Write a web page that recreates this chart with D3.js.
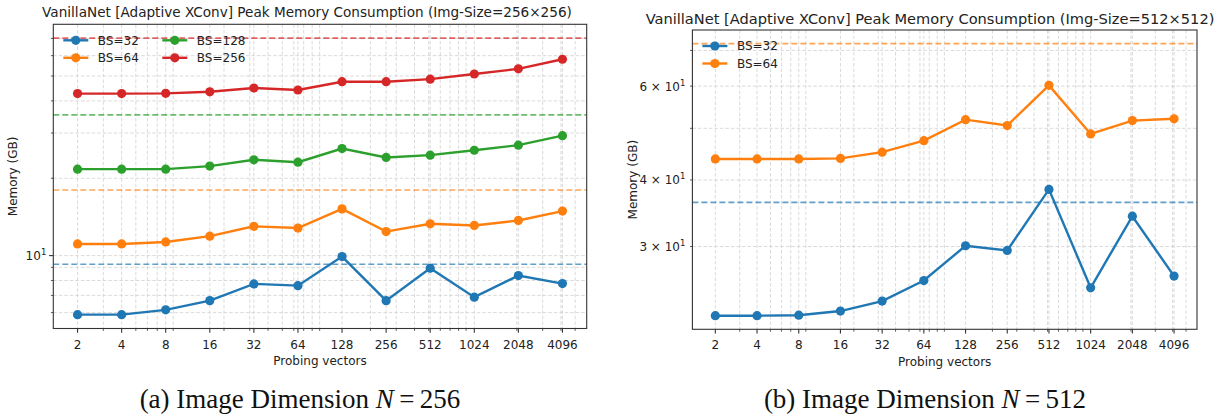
<!DOCTYPE html>
<html lang="en">
<head>
    <meta charset="UTF-8" />
    <title>VanillaNet peak memory</title>
    <script src="https://d3js.org/d3.v7.js"></script>
    <style>
        body { margin: 0; background: #fff; }
        text { font-family: "DejaVu Sans", sans-serif; fill: #222; }
        .caption { font-family: "Liberation Serif", "DejaVu Serif", serif; fill: #111; }
    </style>
</head>
<body>
    <script>
        var w = 1225;
        var h = 417;

        // probing vectors (x axis)
        var probes = [2, 4, 8, 16, 32, 64, 128, 256, 512, 1024, 2048, 4096];

        // Img-Size 256x256, memory in GB
        var mem256_bs32 = [5.89, 5.89, 6.15, 6.68, 7.76, 7.64, 9.91, 6.68, 8.93, 6.89, 8.36, 7.78];
        var mem256_bs64 = [11.1, 11.1, 11.3, 11.9, 13.0, 12.8, 15.2, 12.4, 13.3, 13.1, 13.7, 14.9];
        var mem256_bs128 = [21.7, 21.7, 21.7, 22.3, 23.6, 23.1, 26.1, 24.1, 24.6, 25.7, 26.9, 29.3];
        var mem256_bs256 = [42.7, 42.7, 42.8, 43.4, 44.9, 44.1, 47.5, 47.5, 48.6, 50.9, 53.3, 58.1];
        // dashed reference levels, one per batch size
        var ref256 = [9.26, 18.0, 35.3, 70.2];

        // Img-Size 512x512
        var mem512_bs32 = [22.25, 22.25, 22.3, 22.7, 23.7, 25.9, 30.1, 29.5, 38.4, 25.1, 34.2, 26.4];
        var mem512_bs64 = [43.8, 43.8, 43.8, 43.9, 45.1, 47.4, 51.9, 50.6, 60.2, 48.8, 51.7, 52.1];
        var ref512 = [36.3, 72.1];

        var labels256 = ["BS=32", "BS=64", "BS=128", "BS=256"];
        var labels512 = ["BS=32", "BS=64"];
        var colors = ["#1f77b4", "#ff7f0e", "#2ca02c", "#d62728"];

        // y tick labels that matplotlib printed
        var yLabeled256 = [10];
        var yLabeled512 = [30, 40, 60];

        var svg = d3.select("body")
            .append("svg")
            .attr("width", w)
            .attr("height", h);

        // log domain with 5% margin like matplotlib autoscale
        function logDomain(vals) {
            var lo = Math.log10(d3.min(vals)), hi = Math.log10(d3.max(vals));
            var m = (hi - lo) * 0.05;
            return [Math.pow(10, lo - m), Math.pow(10, hi + m)];
        }

        function isPow10(v) {
            var l = Math.log10(v);
            return Math.abs(l - Math.round(l)) < 1e-9;
        }

        function sup(sel, v) {
            // matplotlib style 10^k / m x 10^k
            var k = Math.floor(Math.log10(v) + 1e-9);
            var m = Math.round(v / Math.pow(10, k));
            if (m !== 1) sel.append("tspan").text(m + " \u00d7 10");
            else sel.append("tspan").text("10");
            sel.append("tspan").attr("dy", -5).attr("font-size", 8.5).text(k);
        }

        function panel(cfg) {
            var g = svg.append("g");
            var x = d3.scaleLog()
                .domain(logDomain(probes))
                .range([cfg.left, cfg.right]);
            var allY = d3.merge(cfg.series.concat([cfg.refs]));
            var y = d3.scaleLog()
                .domain(logDomain(allY))
                .range([cfg.bottom, cfg.top]);

            var xMinor = x.ticks().filter(function (d) { return !isPow10(d) && probes.indexOf(d) < 0; });
            var yTicks = y.ticks();
            var yMajor = yTicks.filter(isPow10);
            var yMinor = yTicks.filter(function (d) { return !isPow10(d); });

            // grid, both major and minor
            var grid = g.append("g")
                .attr("stroke", "#d0d0d0")
                .attr("stroke-width", 0.8)
                .attr("stroke-dasharray", "3.5,2");
            grid.selectAll(".gx")
                .data(probes.concat(xMinor))
                .enter()
                .append("line")
                .attr("x1", function (d) { return x(d); })
                .attr("x2", function (d) { return x(d); })
                .attr("y1", cfg.top)
                .attr("y2", cfg.bottom);
            grid.selectAll(".gy")
                .data(yTicks)
                .enter()
                .append("line")
                .attr("x1", cfg.left)
                .attr("x2", cfg.right)
                .attr("y1", function (d) { return y(d); })
                .attr("y2", function (d) { return y(d); });

            // dashed reference lines
            g.selectAll(".ref")
                .data(cfg.refs)
                .enter()
                .append("line")
                .attr("x1", cfg.left)
                .attr("x2", cfg.right)
                .attr("y1", function (d) { return y(d); })
                .attr("y2", function (d) { return y(d); })
                .attr("stroke", function (d, i) { return colors[i]; })
                .attr("stroke-width", 1.6)
                .attr("stroke-opacity", 0.7)
                .attr("stroke-dasharray", "6,3");

            var line = d3.line()
                .x(function (d, i) { return x(probes[i]); })
                .y(function (d) { return y(d); });

            cfg.series.forEach(function (s, si) {
                g.append("path")
                    .datum(s)
                    .attr("d", line)
                    .attr("fill", "none")
                    .attr("stroke", colors[si])
                    .attr("stroke-width", 2.4);
                g.selectAll(".pt" + si)
                    .data(s)
                    .enter()
                    .append("circle")
                    .attr("cx", function (d, i) { return x(probes[i]); })
                    .attr("cy", function (d) { return y(d); })
                    .attr("r", 4.6)
                    .attr("fill", colors[si]);
            });

            // frame
            g.append("rect")
                .attr("x", cfg.left)
                .attr("y", cfg.top)
                .attr("width", cfg.right - cfg.left)
                .attr("height", cfg.bottom - cfg.top)
                .attr("fill", "none")
                .attr("stroke", "#333")
                .attr("stroke-width", 1.1);

            // x ticks
            var xt = g.append("g").attr("stroke", "#333");
            xt.selectAll(".xM")
                .data(probes)
                .enter()
                .append("line")
                .attr("x1", function (d) { return x(d); })
                .attr("x2", function (d) { return x(d); })
                .attr("y1", cfg.bottom)
                .attr("y2", cfg.bottom + 4.2)
                .attr("stroke-width", 1.1);
            xt.selectAll(".xm")
                .data(xMinor)
                .enter()
                .append("line")
                .attr("x1", function (d) { return x(d); })
                .attr("x2", function (d) { return x(d); })
                .attr("y1", cfg.bottom)
                .attr("y2", cfg.bottom + 2.4)
                .attr("stroke-width", 0.8);
            g.selectAll(".xl")
                .data(probes)
                .enter()
                .append("text")
                .attr("x", function (d) { return x(d); })
                .attr("y", cfg.bottom + 20)
                .attr("text-anchor", "middle")
                .attr("font-size", 12)
                .text(function (d) { return d; });
            g.append("text")
                .attr("x", (cfg.left + cfg.right) / 2)
                .attr("y", cfg.bottom + 36.5)
                .attr("text-anchor", "middle")
                .attr("font-size", 12)
                .text("Probing vectors");

            // y ticks
            var yt = g.append("g").attr("stroke", "#333");
            yt.selectAll(".yM")
                .data(yMajor)
                .enter()
                .append("line")
                .attr("x1", cfg.left - 4.2)
                .attr("x2", cfg.left)
                .attr("y1", function (d) { return y(d); })
                .attr("y2", function (d) { return y(d); })
                .attr("stroke-width", 1.1);
            yt.selectAll(".ym")
                .data(yMinor)
                .enter()
                .append("line")
                .attr("x1", cfg.left - 2.4)
                .attr("x2", cfg.left)
                .attr("y1", function (d) { return y(d); })
                .attr("y2", function (d) { return y(d); })
                .attr("stroke-width", 0.8);
            g.selectAll(".yl")
                .data(cfg.yLabeled)
                .enter()
                .append("text")
                .attr("x", cfg.left - 7)
                .attr("y", function (d) { return y(d) + 4.5; })
                .attr("text-anchor", "end")
                .attr("font-size", 12)
                .each(function (d) { sup(d3.select(this), d); });

            g.append("text")
                .attr("transform", "translate(" + cfg.ylabelX + "," + ((cfg.top + cfg.bottom) / 2) + ") rotate(-90)")
                .attr("text-anchor", "middle")
                .attr("font-size", 12)
                .text("Memory (GB)");

            // title
            g.append("text")
                .attr("x", cfg.titleX)
                .attr("y", cfg.top - cfg.titleGap)
                .attr("text-anchor", "middle")
                .attr("font-size", cfg.titleSize)
                .text(cfg.title);

            // legend, 2 columns, no frame
            var lg = g.append("g");
            cfg.labels.forEach(function (lab, i) {
                var col = Math.floor(i / 2), row = i % 2;
                var lx = cfg.left + 10 + col * 99;
                var ly = cfg.top + 16 + row * 17.5;
                lg.append("line")
                    .attr("x1", lx)
                    .attr("x2", lx + 25)
                    .attr("y1", ly)
                    .attr("y2", ly)
                    .attr("stroke", colors[i])
                    .attr("stroke-width", 2.4);
                lg.append("circle")
                    .attr("cx", lx + 12.5)
                    .attr("cy", ly)
                    .attr("r", 4.6)
                    .attr("fill", colors[i]);
                lg.append("text")
                    .attr("x", lx + 34.5)
                    .attr("y", ly + 4.3)
                    .attr("font-size", 12)
                    .text(lab);
            });

            // caption
            var cap = g.append("text")
                .attr("class", "caption")
                .attr("x", cfg.capX)
                .attr("y", 408)
                .attr("text-anchor", "middle")
                .attr("font-size", 27);
            cap.append("tspan").text(cfg.caption[0]);
            cap.append("tspan").attr("font-style", "italic").text("N");
            cap.append("tspan").text("\u2009=\u2009" + cfg.caption[1]);
        }

        panel({
            left: 53.3, right: 586.7, top: 24.3, bottom: 328.5,
            series: [mem256_bs32, mem256_bs64, mem256_bs128, mem256_bs256],
            refs: ref256,
            labels: labels256,
            yLabeled: yLabeled256,
            ylabelX: 17,
            titleX: 307,
            titleSize: 13.6,
            titleGap: 7,
            title: "VanillaNet [Adaptive XConv] Peak Memory Consumption (Img-Size=256\u00d7256)",
            capX: 300,
            caption: ["(a) Image Dimension ", "256"]
        });

        panel({
            left: 692.4, right: 1197, top: 30, bottom: 329.3,
            series: [mem512_bs32, mem512_bs64],
            refs: ref512,
            labels: labels512,
            yLabeled: yLabeled512,
            ylabelX: 636.5,
            titleX: 930,
            titleSize: 14.6,
            titleGap: 6.5,
            title: "VanillaNet [Adaptive XConv] Peak Memory Consumption (Img-Size=512\u00d7512)",
            capX: 925,
            caption: ["(b) Image Dimension ", "512"]
        });
    </script>
</body>
</html>
